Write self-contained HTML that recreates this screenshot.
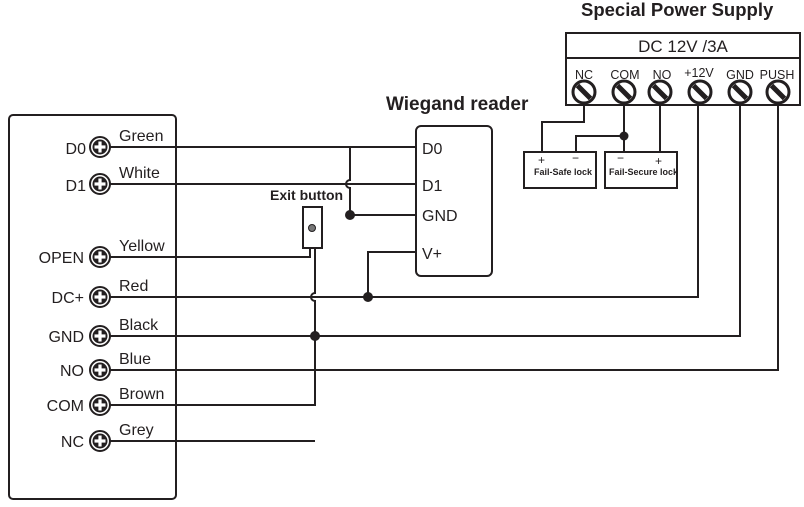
<!DOCTYPE html>
<html><head><style>body{margin:0;background:#fff}svg{display:block}</style></head><body>
<svg width="804" height="507" viewBox="0 0 804 507" xmlns="http://www.w3.org/2000/svg" font-family="Liberation Sans, Arial, sans-serif" fill="#231f20">
<defs>
<g id="t"><circle r="10" fill="#fff" stroke="#231f20" stroke-width="2"/><circle r="7.5" fill="#231f20"/><rect x="-5.5" y="-1.6" width="11" height="3.2" fill="#fff"/><rect x="-1.6" y="-5.5" width="3.2" height="11" fill="#fff"/></g>
<g id="s"><circle r="11" fill="#fff" stroke="#231f20" stroke-width="3"/><line x1="-6.5" y1="-6.5" x2="6.5" y2="6.5" stroke="#231f20" stroke-width="5"/></g>
</defs>
<g fill="none" stroke="#231f20" stroke-width="2">
<rect x="9" y="115" width="167" height="384" rx="4"/>
<rect x="416" y="126" width="76" height="150" rx="5"/>
<rect x="566" y="33" width="234" height="72"/>
<line x1="566" y1="58" x2="800" y2="58"/>
<rect x="524" y="152" width="72" height="36"/>
<rect x="605" y="152" width="72" height="36"/>
<rect x="303" y="207" width="19" height="41"/>
<path d="M110 147H416"/>
<path d="M350 147V180a4 4 0 0 0 0 8V215H416"/>
<path d="M110 184H416"/>
<path d="M416 252H368V297"/>
<path d="M110 257H310V248"/>
<path d="M110 297H698V100"/>
<path d="M315 248V293a4 4 0 0 0 0 8V405H110"/>
<path d="M110 336H740V100"/>
<path d="M110 370H778V100"/>
<path d="M110 441H315"/>
<path d="M584 100V122H542V152"/>
<path d="M624 100V152M624 136H576V152"/>
<path d="M660 100V152"/>
</g>
<circle cx="312" cy="228" r="3.5" fill="#777" stroke="#231f20" stroke-width="1"/>
<circle cx="350" cy="215" r="5"/><circle cx="368" cy="297" r="5"/><circle cx="315" cy="336" r="5"/><circle cx="624" cy="136" r="4.5"/>
<use href="#t" x="100" y="147"/><use href="#t" x="100" y="184"/><use href="#t" x="100" y="257"/><use href="#t" x="100" y="297"/><use href="#t" x="100" y="336"/><use href="#t" x="100" y="370"/><use href="#t" x="100" y="405"/><use href="#t" x="100" y="441"/>
<use href="#s" x="584" y="92"/><use href="#s" x="624" y="92"/><use href="#s" x="660" y="92"/><use href="#s" x="700" y="92"/><use href="#s" x="740" y="92"/><use href="#s" x="778" y="92"/>
<g font-size="16" text-anchor="end">
<text x="86" y="154">D0</text><text x="86" y="191">D1</text><text x="84" y="263">OPEN</text><text x="84" y="303">DC+</text><text x="84" y="342">GND</text><text x="84" y="376">NO</text><text x="84" y="411">COM</text><text x="84" y="447">NC</text>
</g>
<g font-size="16">
<text x="119" y="141">Green</text><text x="119" y="178">White</text><text x="119" y="251">Yellow</text><text x="119" y="291">Red</text><text x="119" y="330">Black</text><text x="119" y="364">Blue</text><text x="119" y="399">Brown</text><text x="119" y="435">Grey</text>
<text x="422" y="154">D0</text><text x="422" y="191">D1</text><text x="422" y="221">GND</text><text x="422" y="259">V+</text>
</g>
<text x="270" y="200" font-size="14" font-weight="bold">Exit button</text>
<text x="386" y="110" font-size="19" font-weight="bold">Wiegand reader</text>
<text x="581" y="16" font-size="18.5" font-weight="bold">Special Power Supply</text>
<text x="683" y="52" font-size="17" text-anchor="middle">DC 12V /3A</text>
<g font-size="12.5" text-anchor="middle"><text x="584" y="79">NC</text><text x="625" y="79">COM</text><text x="662" y="79">NO</text><text x="699" y="77">+12V</text><text x="740" y="79">GND</text><text x="777" y="79">PUSH</text></g>
<g font-size="9" font-weight="bold"><text x="534" y="175">Fail-Safe lock</text><text x="609" y="175">Fail-Secure lock</text></g>
<g font-size="12"><text x="538" y="164">+</text><text x="572" y="162">−</text><text x="617" y="162">−</text><text x="655" y="165">+</text></g>
</svg>
</body></html>
